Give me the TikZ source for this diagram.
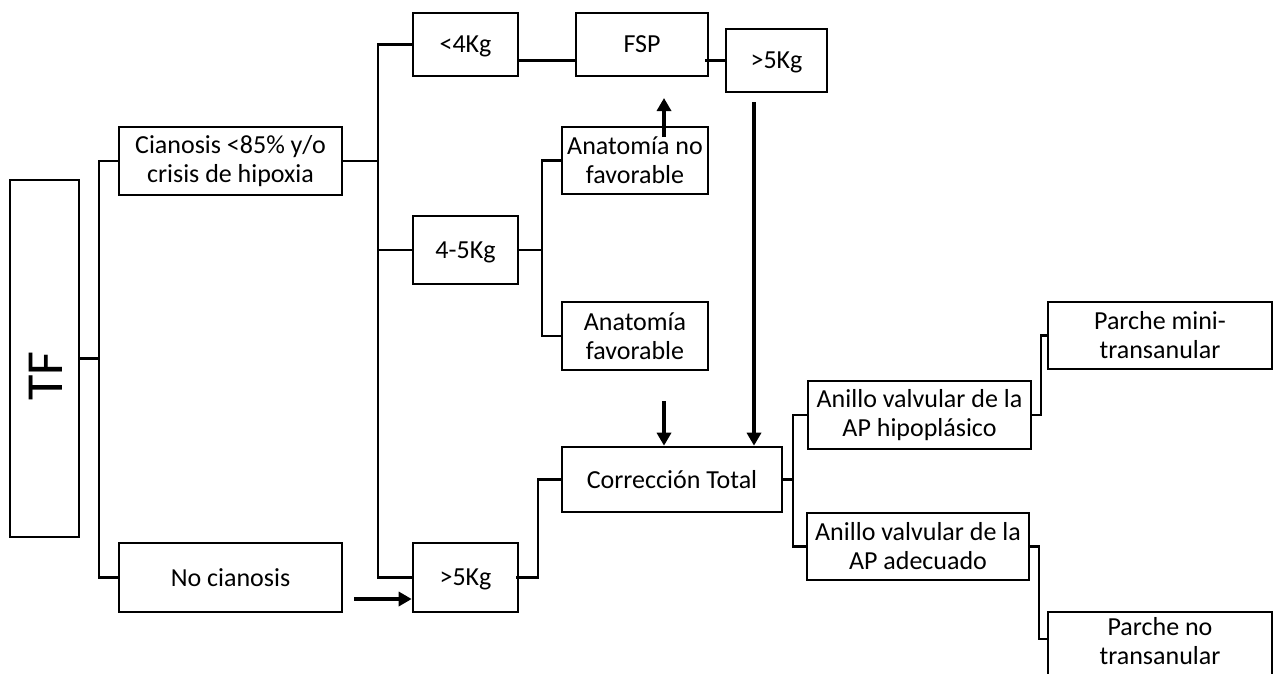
\documentclass[tikz,border=0pt]{standalone}
\usepackage{fontspec}
\setmainfont{Carlito}
\usetikzlibrary{arrows.meta,calc}
\begin{document}
\begin{tikzpicture}[x=1pt,y=-1pt,
  box/.style={draw,line width=2.6pt,inner sep=0pt,align=center,
    font=\fontsize{26}{29}\selectfont},
  oneline/.style={text depth=0pt},
  link/.style={line width=2.2pt},
  bigarrow/.style={line width=4pt,-{Triangle[length=13pt,width=14pt]}}]
\clip (0,0) rectangle (1276,673);

% boxes
\node[box,minimum width=69pt,minimum height=357pt] (tf) at (44.5,358.5) {};
\node[rotate=90,font=\fontsize{52}{60}\selectfont] (tft) at (46,376) {TF};
\node[box,minimum width=223pt,minimum height=68pt] (cian) at (230.5,161) {Cianosis <85\% y/o\\crisis de hipoxia};
\node[box,oneline,minimum width=223pt,minimum height=69pt] (nocian) at (230.5,577.5) {No cianosis};
\node[box,oneline,minimum width=105pt,minimum height=63pt] (lt4) at (465.5,44.5) {<4Kg};
\node[box,oneline,minimum width=132pt,minimum height=63pt] (fsp) at (642,44.5) {FSP};
\node[box,oneline,minimum width=101pt,minimum height=63pt] (gt5a) at (776.5,60.5) {>5Kg};
\node[box,oneline,minimum width=105pt,minimum height=68pt] (k45) at (465.5,250) {4-5Kg};
\node[box,minimum width=146pt,minimum height=67pt] (anf) at (635,160.5) {Anatomía no\\favorable};
\node[box,minimum width=146pt,minimum height=68pt] (af) at (635,336) {Anatomía\\favorable};
\node[box,oneline,minimum width=105pt,minimum height=69pt] (gt5b) at (465.5,577.5) {>5Kg};
\node[box,oneline,minimum width=220pt,minimum height=65pt] (ct) at (672,479.5) {Corrección Total};
\node[box,minimum width=223pt,minimum height=68pt] (ahip) at (919.5,415) {Anillo valvular de la\\AP hipoplásico};
\node[box,minimum width=222pt,minimum height=67pt] (aade) at (918,546.5) {Anillo valvular de la\\AP adecuado};
\node[box,minimum width=224pt,minimum height=67pt] (pmini) at (1160,335.5) {Parche mini-\\transanular};
\node[box,minimum width=224pt,minimum height=72pt] (pno) at (1160,648) {};
\node[align=center,inner sep=0pt,font=\fontsize{26}{29}\selectfont] (pnot) at (1160,641) {Parche no\\transanular};

% junction points of the elbow connectors
\coordinate (j1) at (99,358.5);
\coordinate (j2) at (378,161);
\coordinate (j3) at (542,250);
\coordinate (j5) at (793,479.5);

% TF branches
\draw[link] (tf.east) -- (j1);
\draw[link] (cian.west) -| (j1) |- (nocian.west);

% weight branches
\draw[link] (cian.east) -- (j2);
\draw[link] (lt4.west) -| (j2) |- (gt5b.west);
\draw[link] (j2 |- k45.west) -- (k45.west);

% top row
\draw[link] (lt4.east |- gt5a.west) -- (fsp.west |- gt5a.west);
\draw[link] ($(fsp.east |- gt5a.west)+(-4,0)$) -- (gt5a.west);

% anatomy branches
\draw[link] (k45.east) -- (j3);
\draw[link] (anf.west) -| (j3) |- (af.west);

% >5Kg to total correction
\draw[link] ($(gt5b.east)+(-3,0)$) -- ++(22,0) |- (ct.west);

% total correction branches
\draw[link] (ct.east) -- (j5);
\draw[link] (ahip.west) -| (j5) |- (aade.west);
\draw[link] (ahip.east) -- ++(9,0) |- (pmini.west);
\draw[link] (aade.east) -- ++(9,0) |- ($(pno.north west)+(0,28)$);

% arrows
\coordinate (up1) at (664,137);
\coordinate (up2) at (664,98);
\draw[bigarrow] (up1) -- (up2);
\coordinate (dn1) at (664,401);
\draw[bigarrow] (dn1) -- (dn1 |- ct.north);
\coordinate (ln1) at (754,102);
\draw[bigarrow] (ln1) -- (ln1 |- ct.north);
\coordinate (nc1) at (354,599);
\draw[bigarrow] (nc1) -- (nc1 -| gt5b.west);
\end{tikzpicture}
\end{document}
